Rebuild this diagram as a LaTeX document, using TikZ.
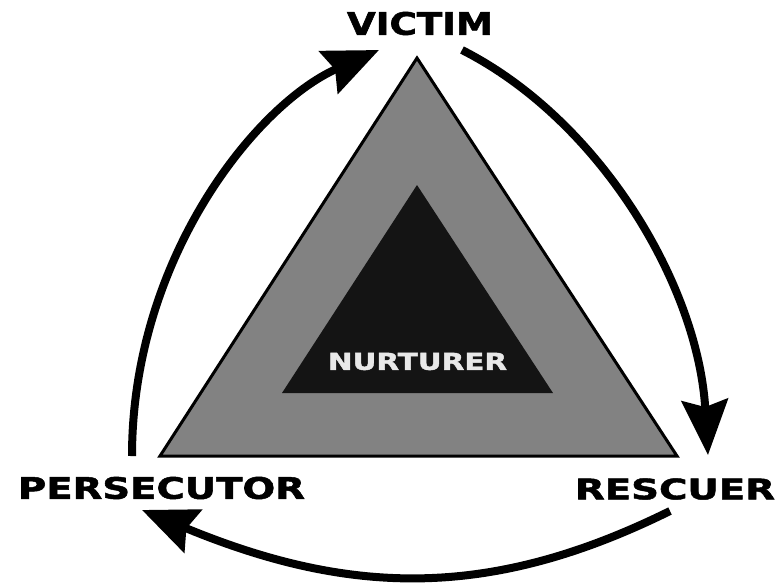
\documentclass[tikz,border=0pt]{standalone}
\usepackage{graphicx}
\usepackage{fontspec}
\setmainfont{DejaVu Sans}
\newfontfamily\heavyfont{DejaVu Sans Bold}[FakeBold=1.6]
\usetikzlibrary{arrows.meta}
\definecolor{outergray}{HTML}{828282}
\definecolor{innerblack}{HTML}{141414}
\definecolor{lighttext}{HTML}{E8E8E8}
\begin{document}
\begin{tikzpicture}[x=1pt,y=-1pt,
  cyc/.style={line width=8pt, -{Stealth[length=55pt,width=46pt,inset=7pt]}},
  lbl/.style={inner sep=0pt, font=\heavyfont}]
\useasboundingbox (0,0) rectangle (780,582);
\fill[white] (0,0) rectangle (780,582);
% triangles
\draw[line width=3pt, fill=outergray, line join=miter] (417,58) -- (677,456) -- (160,456) -- cycle;
\fill[innerblack] (417,185) -- (553,393) -- (282,393) -- cycle;
% labels
\node[lbl] (victim) at (420,23.5) {\resizebox{146pt}{23pt}{VICTIM}};
\node[lbl] (persecutor) at (161.5,488) {\resizebox{287pt}{22pt}{PERSECUTOR}};
\node[lbl] (rescuer) at (675,489) {\resizebox{200pt}{21pt}{RESCUER}};
\node[lbl, text=lighttext] (nurturer) at (417.5,361.5) {\resizebox{179pt}{17pt}{NURTURER}};
% arrow ends
\coordinate (pS) at (132,456);
\coordinate (vE) at (379,50);
\coordinate (vS) at (462,50);
\coordinate (rE) at (708,455);
\coordinate (rS) at (670,511);
\coordinate (pE) at (142,510);
% cycle arrows
\draw[cyc] (pS) .. controls (132,260) and (255,105) .. (vE);
\draw[cyc] (vS) .. controls (600,120) and (698,285) .. (rE);
\draw[cyc] (rS) .. controls (490,600) and (350,596) .. (pE);
\end{tikzpicture}
\end{document}
